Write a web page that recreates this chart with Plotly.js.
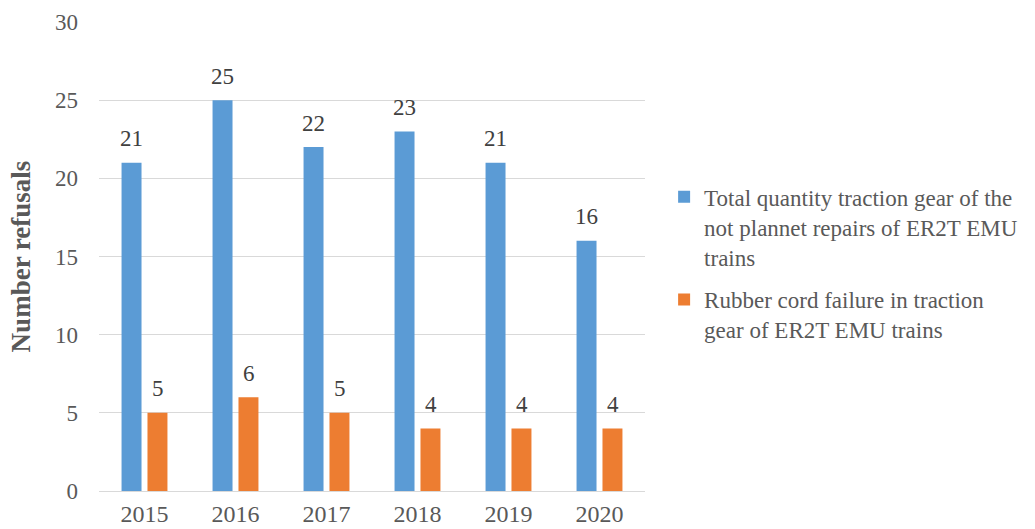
<!DOCTYPE html>
<html><head><meta charset="utf-8">
<script src="https://cdn.plot.ly/plotly-3.0.1.min.js"></script>
<style>body{margin:0;padding:0;background:#fff}#chart{width:1035px;height:529px}</style>
</head><body><div id="chart"></div>
<script>
const years = ['2015','2016','2017','2018','2019','2020'];
const totalRepairs = [21,25,22,23,21,16];
const rubberCord = [5,6,5,4,4,4];
const seriesNames = ['Total quantity traction gear of the<br>not plannet repairs of ER2T EMU<br>trains','Rubber cord failure in traction<br>gear of ER2T EMU trains'];
const font = 'Liberation Serif, Times New Roman, serif';
const traces = [
 {type:'bar', x:years, y:totalRepairs, name:seriesNames[0], legendgroup:'g1', marker:{color:'#5b9bd5'}},
 {type:'bar', x:years, y:rubberCord, name:seriesNames[1], legendgroup:'g2', marker:{color:'#ed7d31'}}
];
const labelFont = {family:font, size:23, color:'#404040'};
const annotations = [];
years.forEach((yr,i)=>{
  annotations.push({x:i, y:totalRepairs[i], xref:'x', yref:'y', text:String(totalRepairs[i]),
    showarrow:false, xshift:-13, yshift:24, yanchor:'middle', font:labelFont});
  annotations.push({x:i, y:rubberCord[i], xref:'x', yref:'y', text:String(rubberCord[i]),
    showarrow:false, xshift:13, yshift:24, yanchor:'middle', font:labelFont});
});
const layout = {
 width:1035, height:529,
 margin:{l:99, r:387, t:22, b:38},
 paper_bgcolor:'#fff', plot_bgcolor:'#fff',
 barmode:'group', bargap:0.43, bargroupgap:0.23,
 font:{family:font, size:23, color:'#595959'},
 xaxis:{type:'category', range:[-0.5, years.length-0.5], autorange:false, showgrid:false, showline:true,
   linecolor:'#d9d9d9', linewidth:1,
   ticks:'', tickfont:{family:font,size:24,color:'#595959'}, ticklabelstandoff:1, automargin:false},
 yaxis:{range:[0,30], autorange:false, dtick:5, showgrid:true, gridcolor:'#d9d9d9', gridwidth:1, zeroline:false,
   ticks:'', tickfont:{family:font,size:23,color:'#595959'}, ticklabelstandoff:20,
   title:{text:'<b>Number refusals</b>', font:{family:font,size:27,color:'#595959'}, standoff:16},
   automargin:false},
 annotations:annotations,
 legend:{x:1.035, y:0.673, xanchor:'left', yanchor:'top', valign:'top', traceorder:'grouped',
   font:{family:font,size:23,color:'#595959'},
   tracegroupgap:10, itemwidth:30, bgcolor:'rgba(0,0,0,0)'},
 showlegend:true
};
Plotly.newPlot('chart', traces, layout, {displayModeBar:false, staticPlot:true});
</script></body></html>
